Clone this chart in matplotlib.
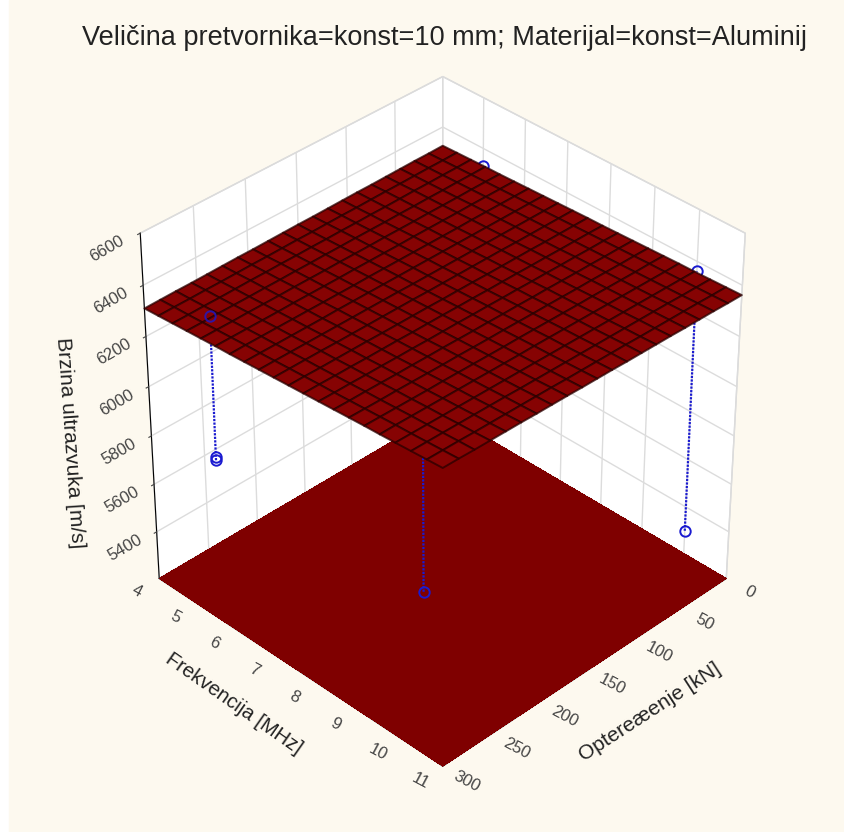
import numpy as np
import matplotlib
matplotlib.use("Agg")
import matplotlib.pyplot as plt
from matplotlib.patches import Rectangle
from mpl_toolkits.mplot3d import proj3d

plt.rcParams['font.family'] = ['Liberation Sans', 'DejaVu Sans']

TITLE = "Veličina pretvornika=konst=10 mm; Materijal=konst=Aluminij"
freq_ticks = [4, 5, 6, 7, 8, 9, 10, 11]
load_ticks = [0, 50, 100, 150, 200, 250, 300]
speed_ticks = [5400, 5600, 5800, 6000, 6200, 6400, 6600]
stem_load = [276, 276, 0, 0]
stem_freq = [5, 10, 5, 10]
stem_low = [5745, 5740, 5200, 5298]
stem_high = [6322, 6300, 6328, 6363]
second_low = 5760
# fitted surface: one row per load step (0..300 kN), one column per frequency step (4..11 MHz)
speed_rows = [
    [6325,6327,6329,6331,6332,6334,6336,6338,6340,6342,6344,6345,6347,6349,6351,6353,6355,6356,6358,6360,6362],
    [6324,6326,6328,6330,6332,6334,6336,6338,6340,6342,6344,6346,6348,6350,6352,6354,6355,6357,6359,6361,6363],
    [6324,6326,6328,6330,6332,6334,6336,6338,6340,6342,6344,6346,6348,6350,6352,6354,6356,6358,6360,6363,6365],
    [6323,6325,6327,6329,6331,6334,6336,6338,6340,6342,6344,6346,6349,6351,6353,6355,6357,6359,6362,6364,6366],
    [6322,6324,6327,6329,6331,6333,6336,6338,6340,6342,6345,6347,6349,6351,6354,6356,6358,6360,6363,6365,6367],
    [6321,6324,6326,6328,6331,6333,6335,6338,6340,6343,6345,6347,6350,6352,6354,6357,6359,6361,6364,6366,6369],
    [6321,6323,6325,6328,6330,6333,6335,6338,6340,6343,6345,6348,6350,6353,6355,6357,6360,6362,6365,6367,6370],
    [6320,6322,6325,6327,6330,6333,6335,6338,6340,6343,6345,6348,6351,6353,6356,6358,6361,6363,6366,6369,6371],
    [6319,6322,6324,6327,6330,6332,6335,6338,6340,6343,6346,6348,6351,6354,6356,6359,6362,6364,6367,6370,6372],
    [6318,6321,6324,6327,6329,6332,6335,6338,6340,6343,6346,6349,6352,6354,6357,6360,6363,6365,6368,6371,6374],
    [6318,6320,6323,6326,6329,6332,6335,6338,6340,6343,6346,6349,6352,6355,6358,6361,6364,6366,6369,6372,6375],
    [6317,6320,6323,6326,6329,6332,6335,6338,6341,6344,6347,6350,6353,6355,6358,6361,6364,6367,6370,6373,6376],
    [6316,6319,6322,6325,6328,6331,6334,6338,6341,6344,6347,6350,6353,6356,6359,6362,6365,6368,6371,6375,6378],
    [6315,6318,6322,6325,6328,6331,6334,6338,6341,6344,6347,6350,6353,6357,6360,6363,6366,6369,6372,6376,6379],
    [6315,6318,6321,6324,6328,6331,6334,6338,6341,6344,6347,6351,6354,6357,6360,6364,6367,6370,6374,6377,6380],
    [6314,6317,6321,6324,6327,6331,6334,6337,6341,6344,6348,6351,6354,6358,6361,6365,6368,6371,6375,6378,6382],
    [6313,6316,6320,6323,6327,6330,6334,6337,6341,6344,6348,6351,6355,6358,6362,6365,6369,6372,6376,6379,6383],
    [6312,6316,6319,6323,6327,6330,6334,6337,6341,6345,6348,6352,6355,6359,6363,6366,6370,6373,6377,6380,6384],
    [6312,6315,6319,6323,6326,6330,6334,6337,6341,6345,6348,6352,6356,6360,6363,6367,6371,6374,6378,6382,6385],
    [6311,6315,6318,6322,6326,6330,6334,6337,6341,6345,6349,6353,6356,6360,6364,6368,6372,6375,6379,6383,6387],
    [6310,6314,6318,6322,6326,6330,6333,6337,6341,6345,6349,6353,6357,6361,6365,6369,6372,6376,6380,6384,6388],
]
BG = '#FDF9EF'
DARK = '#7F0000'
BLUE = '#1a1ad0'

ZMIN, ZMAX = 5200, 6600
fig = plt.figure(figsize=(8.45, 8.32), dpi=100, facecolor='white')
fig.add_artist(Rectangle((9/845, 0), 836/845, 1, transform=fig.transFigure, color=BG, zorder=-5))
ax = fig.add_axes([9/845, -0.008, 1, 1], projection='3d', computed_zorder=False)
ax.patch.set_alpha(0)
ax.view_init(elev=36, azim=45)
ax.set_proj_type('persp', focal_length=0.86)
ax.set_box_aspect((1, 1, 1.03), zoom=0.845)
ax.set_xlim(0, 300, view_margin=0)
ax.set_ylim(4, 11, view_margin=0)
ax.set_zlim(ZMIN, ZMAX, view_margin=0)

Z = np.array(speed_rows, dtype=float)
fg = np.linspace(4, 11, Z.shape[1])
lg = np.linspace(0, 300, Z.shape[0])
Y, X = np.meshgrid(fg, lg)
ax.plot_surface(X, Y, np.full_like(Z, ZMIN), color=DARK, shade=False, linewidth=0, antialiased=False, zorder=1)
mk = dict(color=BLUE, lw=0, marker='o', mfc='none', ms=7.5, mew=1.4)
for i in range(4):
    if i != 2:
        ax.plot([stem_load[i]]*2, [stem_freq[i]]*2, [stem_low[i], stem_high[i]], color=BLUE, lw=1.6, ls=(0, (1, 0.6)), zorder=2)
        ax.plot([stem_load[i]], [stem_freq[i]], [stem_low[i]], zorder=2, **mk)
    if i != 0:
        ax.plot([stem_load[i]], [stem_freq[i]], [stem_high[i]], zorder=2, **mk)
ax.plot([stem_load[0]], [stem_freq[0]], [second_low], zorder=2, **mk)
ax.plot_surface(X, Y, Z, color='#860303', shade=False, edgecolor=(0.16, 0, 0, 0.75), linewidth=1.4, antialiased=True, zorder=3)
ax.plot([stem_load[0]], [stem_freq[0]], [stem_high[0]], zorder=4, alpha=0.8, **mk)

for axis in (ax.xaxis, ax.yaxis, ax.zaxis):
    axis.set_pane_color('white')
    axis.pane.set_edgecolor('#d8d8d8')
    axis._axinfo['grid'].update(color='#dcdcdc', linewidth=1.0)
for axis in (ax.xaxis, ax.yaxis):
    axis._axinfo['tick'].update(inward_factor=0, outward_factor=0)
ax.zaxis._axinfo['tick'].update(inward_factor=0.1, outward_factor=0)
ax.set_xticks(load_ticks); ax.set_yticks(freq_ticks); ax.set_zticks(speed_ticks)
ax.set_xticklabels([]); ax.set_yticklabels([])
ax.tick_params(axis='z', labelrotation=30, labelsize=12, colors='#444444', pad=9)
ax.zaxis.set_ticks_position('lower')

M = ax.get_proj()
def tick_text(x, y, s):
    px, py, _ = proj3d.proj_transform(x, y, ZMIN, M)
    ax.text2D(px, py, s, transform=ax.transData, rotation=-28, ha='center', va='center',
              rotation_mode='anchor', fontsize=12, color='#444444')
for f in freq_ticks:
    tick_text(322, f, str(f))
for l in load_ticks:
    tick_text(l, 11.55, str(l))

fig.text(445/845, 1-38/832, TITLE, ha='center', va='center', fontsize=19.5, color='#222222')
fig.text(70/845, 1-443/832, 'Brzina ultrazvuka [m/s]', rotation=-86, ha='center', va='center', fontsize=15, color='#222222')
fig.text(234/845, 1-703.5/832, 'Frekvencija [MHz]', rotation=-35, ha='center', va='center', fontsize=14.6, color='#222222')
fig.text(650/845, 1-712/832, 'Optereæenje [kN]', rotation=33, ha='center', va='center', fontsize=15, color='#222222')
fig.savefig('out.png', dpi=100)
